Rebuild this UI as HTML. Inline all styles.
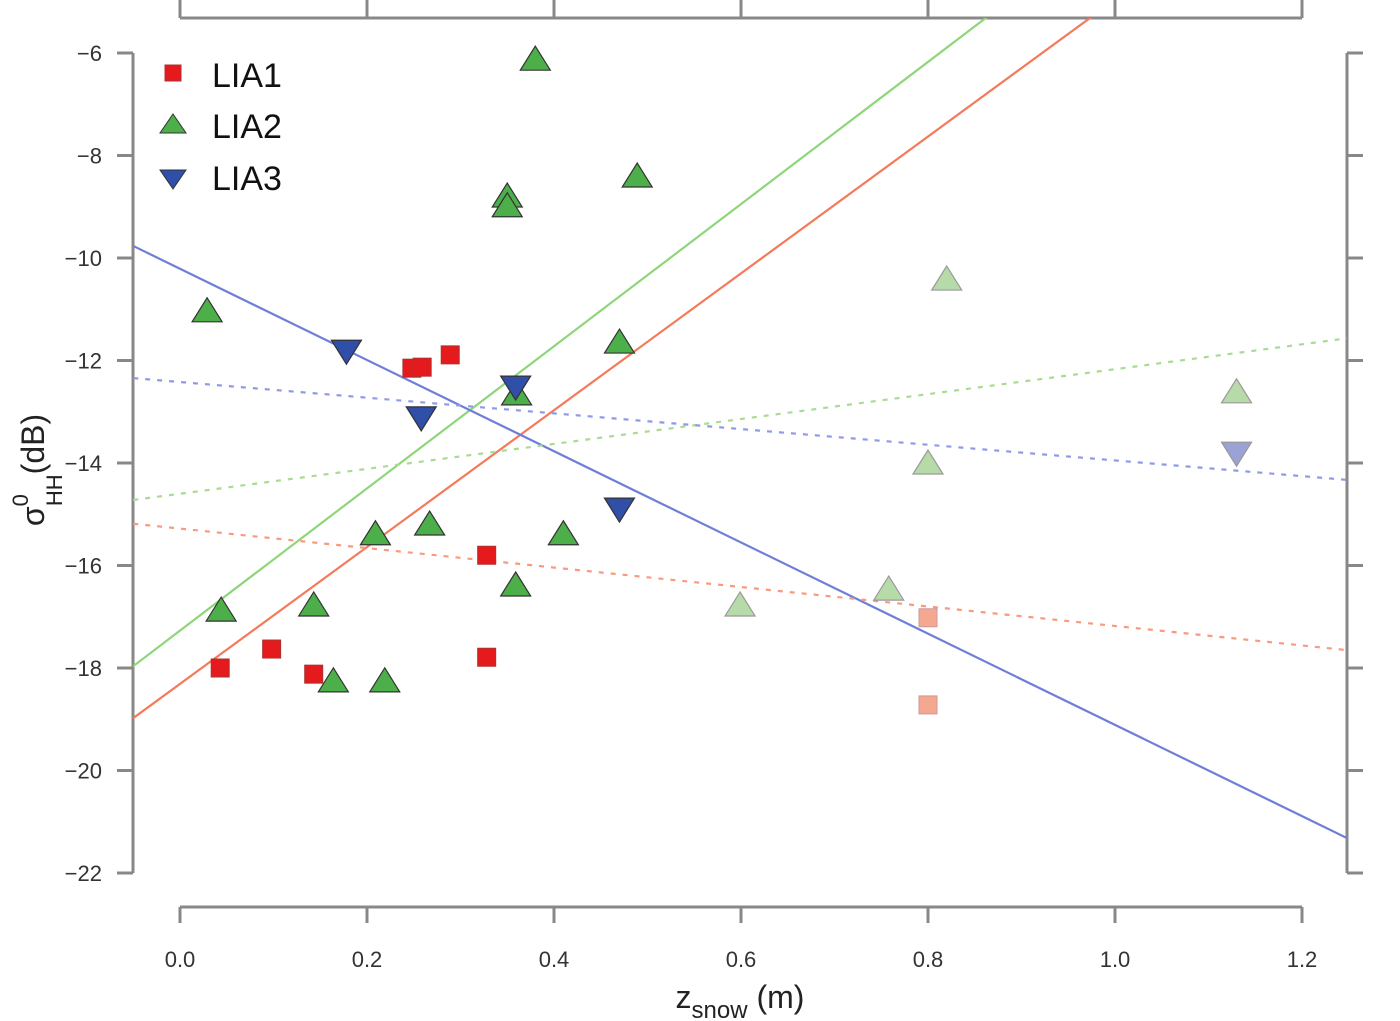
<!DOCTYPE html>
<html><head><meta charset="utf-8"><style>
body{margin:0;background:#fff}
svg{display:block;font-family:"Liberation Sans",sans-serif}
</style></head><body>
<svg id="chart" width="1400" height="1021" viewBox="0 0 1400 1021" xmlns="http://www.w3.org/2000/svg">
<g id="axes"></g>
<g id="lines"></g>
<g id="points"></g>
<g id="legend">
  <rect x="165" y="65" width="16" height="16" fill="#e41a1c" stroke="#a33" stroke-width="1"/>
  <text x="212" y="87" font-size="34" fill="#111">LIA1</text>
  <polygon points="173,114 186,133 160,133" fill="#4daf4a" stroke="#333" stroke-width="1"/>
  <text x="212" y="138" font-size="34" fill="#111">LIA2</text>
  <polygon points="160,170 186,170 173,189" fill="#2f4fa8" stroke="#333" stroke-width="1"/>
  <text x="212" y="190" font-size="34" fill="#111">LIA3</text>
</g>
<text transform="translate(44,470) rotate(-90)" text-anchor="middle" font-size="32" fill="#222">σ<tspan font-size="22" dy="-16">0</tspan><tspan font-size="22" dx="-12" dy="34">HH</tspan><tspan dy="-18">(dB)</tspan></text>
<text x="740" y="1008" text-anchor="middle" font-size="32" fill="#222">z<tspan font-size="24" dy="10">snow</tspan><tspan dy="-10"> (m)</tspan></text>
</svg>
<script>
const xTicks=[0,0.2,0.4,0.6,0.8,1.0,1.2];
const xTickLabels=["0.0","0.2","0.4","0.6","0.8","1.0","1.2"];
const yTicks=[-6,-8,-10,-12,-14,-16,-18,-20,-22];
const yTickLabels=["-6","-8","-10","-12","-14","-16","-18","-20","-22"];
const lia1Z=[0.043,0.098,0.143,0.248,0.259,0.289,0.328,0.328];
const lia1V=[-18.0,-17.63,-18.12,-12.15,-12.13,-11.89,-15.8,-17.79];
const lia1FadedZ=[0.8,0.8];
const lia1FadedV=[-17.02,-18.72];
const lia2Z=[0.38,0.35,0.35,0.489,0.029,0.47,0.36,0.209,0.267,0.41,0.359,0.044,0.143,0.164,0.219];
const lia2V=[-6.14,-8.81,-9.0,-8.42,-11.05,-11.66,-12.67,-15.4,-15.21,-15.4,-16.4,-16.89,-16.79,-18.27,-18.27];
const lia2FadedZ=[0.82,1.13,0.8,0.758,0.599];
const lia2FadedV=[-10.43,-12.63,-14.02,-16.48,-16.79];
const lia3Z=[0.178,0.258,0.359,0.47];
const lia3V=[-11.8,-13.1,-12.5,-14.88];
const lia3FadedZ=[1.13];
const lia3FadedV=[-13.79];
const fitNames=["lia2-solid","lia1-solid","lia3-solid","lia2-dotted","lia3-dotted","lia1-dotted"];
const fitIntercepts=[-17.27,-18.31,-10.21,-14.60,-12.42,-15.28];
const fitSlopes=[13.87,13.35,-8.9,2.43,-1.53,-1.9];

const NS="http://www.w3.org/2000/svg";
const X=z=>180+z*935;
const Y=v=>53+(-6-v)*51.25;
function mk(tag,attrs,parent){const e=document.createElementNS(NS,tag);for(const k in attrs)e.setAttribute(k,attrs[k]);parent.appendChild(e);return e;}
const axes=document.getElementById('axes');
const ac="#888";
let e;
e=mk('line',{x1:133,y1:53,x2:133,y2:873,stroke:ac,'stroke-width':3},axes);

e=mk('line',{x1:1347,y1:53,x2:1347,y2:873,stroke:ac,'stroke-width':3},axes);

e=mk('line',{x1:180,y1:907,x2:1302,y2:907,stroke:ac,'stroke-width':3},axes);

e=mk('line',{x1:180,y1:18,x2:1302,y2:18,stroke:ac,'stroke-width':3},axes);

yTicks.forEach((v,i)=>{
  e=mk('line',{x1:117,y1:Y(v),x2:133,y2:Y(v),stroke:ac,'stroke-width':3},axes);
  
  e=mk('line',{x1:1347,y1:Y(v),x2:1363,y2:Y(v),stroke:ac,'stroke-width':3},axes);
  
  e=mk('text',{x:102,y:Y(v)+8,'text-anchor':'end','font-size':22,fill:'#333'},axes);
  e.textContent=yTickLabels[i].replace('-','\u2212');
  
});
xTicks.forEach((z,i)=>{
  e=mk('line',{x1:X(z),y1:907,x2:X(z),y2:923,stroke:ac,'stroke-width':3},axes);
  
  e=mk('line',{x1:X(z),y1:0,x2:X(z),y2:18,stroke:ac,'stroke-width':3},axes);
  
  e=mk('text',{x:X(z),y:967,'text-anchor':'middle','font-size':22,fill:'#333'},axes);
  e.textContent=xTickLabels[i];
  
});
// lines
const lines=document.getElementById('lines');
const lcol=["#8fd67a","#f47a5a","#6f7fd8","#a8dc92","#8f9ae6","#f79a7e"];
const clip=mk('clipPath',{id:'pc'},lines);mk('rect',{x:133,y:18,width:1214,height:890},clip);
fitNames.forEach((n,i)=>{
  const z0=-0.05,z1=1.248;
  e=mk('line',{x1:X(z0),y1:Y(fitIntercepts[i]+fitSlopes[i]*z0),x2:X(z1),y2:Y(fitIntercepts[i]+fitSlopes[i]*z1),stroke:lcol[i],'stroke-width':2.2,'clip-path':'url(#pc)'},lines);
  if(n.includes('dotted'))e.setAttribute('stroke-dasharray','5,7');
  
});
const pts=document.getElementById('points');
function sq(z,v,fill,st,name){e=mk('rect',{x:X(z)-9,y:Y(v)-9,width:18,height:18,fill:fill,stroke:st,'stroke-width':1},pts);
  }
function tu(z,v,fill,st,name){const x=X(z),y=Y(v);e=mk('polygon',{points:`${x},${y-14} ${x+15},${y+10} ${x-15},${y+10}`,fill:fill,stroke:st,'stroke-width':1.2},pts);
  }
function td(z,v,fill,st,name){const x=X(z),y=Y(v);e=mk('polygon',{points:`${x-15},${y-10} ${x+15},${y-10} ${x},${y+14}`,fill:fill,stroke:st,'stroke-width':1.2},pts);
  }
lia1FadedZ.forEach((z,i)=>sq(z,lia1FadedV[i],"#f5a890","#c99","lia1-point-faded"));
lia2FadedZ.forEach((z,i)=>tu(z,lia2FadedV[i],"#b7dba8","#999","lia2-point-faded"));
lia3FadedZ.forEach((z,i)=>td(z,lia3FadedV[i],"#9aa2d6","#999","lia3-point-faded"));
lia2Z.forEach((z,i)=>tu(z,lia2V[i],"#4daf4a","#333","lia2-point"));
lia1Z.forEach((z,i)=>sq(z,lia1V[i],"#e41a1c","#a33","lia1-point"));
lia3Z.forEach((z,i)=>td(z,lia3V[i],"#2f4fa8","#333","lia3-point"));
</script>
</body></html>
